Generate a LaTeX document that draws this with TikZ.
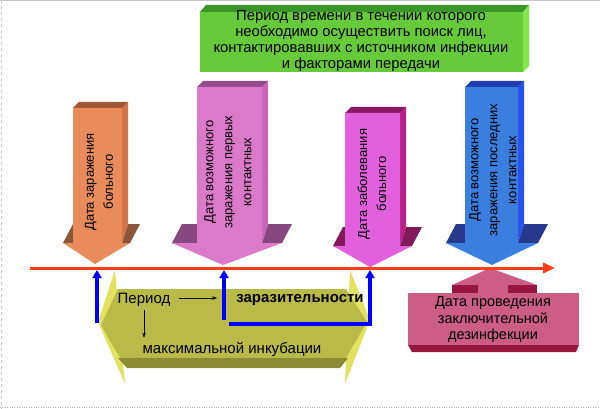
\documentclass[tikz,border=0pt]{standalone}
\usepackage{fontspec}
\setmainfont{Liberation Sans}
\usetikzlibrary{arrows.meta}

\definecolor{colA}{RGB}{232,140,92}
\definecolor{sideA}{RGB}{212,116,72}
\definecolor{darkA}{RGB}{140,86,56}
\definecolor{colB}{RGB}{218,122,200}
\definecolor{sideB}{RGB}{198,100,184}
\definecolor{darkB}{RGB}{134,72,126}
\definecolor{colC}{RGB}{226,96,222}
\definecolor{sideC}{RGB}{186,32,132}
\definecolor{darkC}{RGB}{128,26,90}
\definecolor{colD}{RGB}{58,126,222}
\definecolor{sideD}{RGB}{40,82,236}
\definecolor{darkD}{RGB}{40,56,140}
\definecolor{grn}{RGB}{102,202,58}
\definecolor{grntop}{RGB}{58,150,40}
\definecolor{grnside}{RGB}{132,230,72}
\definecolor{olive}{RGB}{186,186,72}
\definecolor{olivelight}{RGB}{226,226,96}
\definecolor{olivedark}{RGB}{140,140,52}
\definecolor{dis}{RGB}{204,94,134}
\definecolor{disdark}{RGB}{150,22,62}
\definecolor{tlred}{RGB}{255,60,20}

\begin{document}
\begin{tikzpicture}[x=1pt, y=-1pt,
    timeline/.style={tlred, line width=3pt, -{Triangle[length=12pt,width=10pt]}},
    uparrow/.style={blue, line width=3.5pt, -{Triangle[length=8pt,width=9pt]}},
    lbl/.style={rotate=90, align=center, inner sep=1pt, font=\fontsize{13}{19}\selectfont},
    txt/.style={align=center, inner sep=2pt, font=\fontsize{15}{16}\selectfont}]

   \useasboundingbox (0,0) rectangle (600,409);
   \draw[gray!45] (0,0.5) -- (600,0.5);
   \draw[gray!45, dashed] (1,0) -- (1,409);
   \draw[gray!60, dotted] (0,407.5) -- (600,407.5);

   % green box
   \fill[grntop] (200,12) -- (206,5) -- (529,5) -- (523,12) -- cycle;
   \fill[grnside] (523,12) -- (529,5) -- (529,66) -- (523,72) -- cycle;
   \fill[grn] (200,12) rectangle (523,72);
   \node[txt, font=\fontsize{14.8}{16}\selectfont] (green) at (361,41)
     {Период времени в течении которого\\необходимо осуществить поиск лиц,\\контактировавших с источником инфекции\\и факторами передачи};

   % date arrows
   \foreach \xa/\xb/\yt/\yw/\xl/\xr/\xt/\yp/\c in
     {73/122/108/243/63/130/95/264/A, 197/262/87/243/172/282/223/265/B,
      345/400/113/246/333/412/370/267/C, 465/518/87/243/446/538/492/265/D}
   {
     \fill[dark\c] (\xl,\yw) -- (\xl+10,\yw-19) -- (\xa,\yw-19) -- (\xa,\yw) -- cycle;
     \fill[dark\c] (\xb,\yw) -- (\xb+6,\yw-19) -- (\xr+10,\yw-19) -- (\xr,\yw) -- cycle;
     \fill[side\c] (\xb,\yt) -- (\xb+6,\yt-6) -- (\xb+6,\yw-19) -- (\xb,\yw) -- cycle;
     \fill[side\c!75!black] (\xa,\yt) -- (\xa+6,\yt-6) -- (\xb+6,\yt-6) -- (\xb,\yt) -- cycle;
     \fill[col\c] (\xa,\yt) -- (\xb,\yt) -- (\xb,\yw) -- (\xr,\yw) -- (\xt,\yp)
        -- (\xl,\yw) -- (\xa,\yw) -- cycle;
     \coordinate (tip\c) at (\xt,\yp);
   }
   \node[lbl] (lblA) at (99,182) {Дата заражения\\больного};
   \node[lbl] (lblB) at (228,172) {Дата возможного\\заражения первых\\контактных};
   \node[lbl] (lblC) at (372,184) {Дата заболевания\\больного};
   \node[lbl] (lblD) at (493,170) {Дата возможного\\заражения последних\\контактных};

   % period arrow
   \fill[olivelight] (98,322) -- (115,270) -- (125,384) -- cycle;
   \fill[olivelight] (350,270) -- (370,320) -- (345,384) -- cycle;
   \fill[olive] (101,325) -- (118,289) -- (346,289) -- (367,322) -- (346,358) -- (120,358) -- cycle;
   \fill[olivedark] (118,358) -- (348,358) -- (340,368) -- (127,368) -- cycle;
   \node[txt] (per) at (144,300) {Период};
   \node[txt, font=\fontsize{15}{16}\bfseries] (zar) at (300,300) {заразительности};
   \node[txt] (max) at (232,349) {максимальной инкубации};
   \draw[-{Stealth[length=5pt,width=3.5pt]}] ([xshift=6pt,yshift=2pt]per.east) -- ([xshift=-17pt,yshift=2pt]zar.west);
   \draw[-{Stealth[length=5pt,width=3.5pt]}] ([yshift=-1pt]per.south) -- ([yshift=2pt]per.south |- max.north);

   % disinfection
   \fill[dis] (490,268) -- (537,285) -- (452,285) -- cycle;
   \fill[disdark] (452,285) rectangle (478,293);
   \fill[disdark] (508,285) rectangle (537,293);
   \fill[dis] (478,285) rectangle (508,293);
   \fill[disdark] (408,345) -- (579,345) -- (576,352) -- (412,352) -- cycle;
   \fill[dis] (408,293) rectangle (579,345);
   \node[txt, font=\fontsize{14.5}{16.5}\selectfont] (dis) at (493,320)
     {Дата проведения\\заключительной\\дезинфекции};

   % blue links
   \coordinate (bA) at (97,323);
   \coordinate (bB) at (224,320);
   \coordinate (bC) at (229,324);
   \draw[uparrow, shorten >=6pt] (bA) -- (bA |- tipA);
   \draw[uparrow, shorten >=5pt] (bB) -- (bB |- tipB);
   \draw[uparrow, shorten >=3pt, line join=miter] (bC) -| (tipC);

   % time line
   \coordinate (t0) at (30,268);
   \coordinate (t1) at (555,268);
   \draw[timeline] (t0) -- (t1);

\end{tikzpicture}
\end{document}
